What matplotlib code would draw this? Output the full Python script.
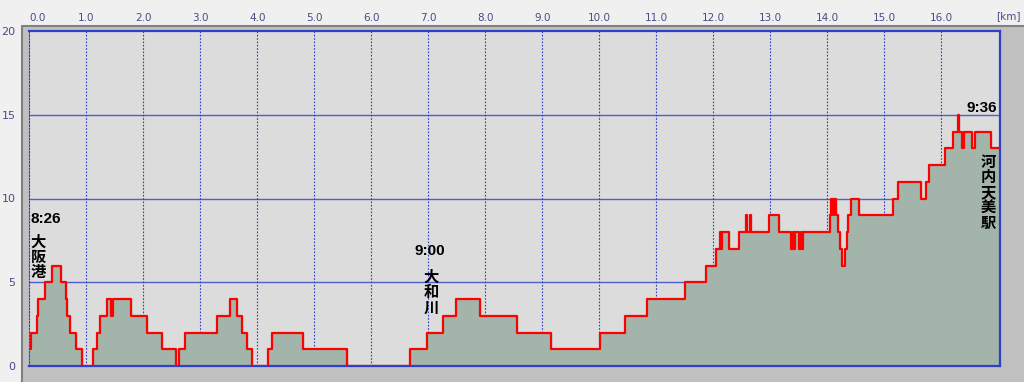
import matplotlib
matplotlib.use("Agg")
import matplotlib.pyplot as plt
from matplotlib.patches import Rectangle
import numpy as np

# elevation profile: distance [km] where each step starts, elevation [m] of that step
dist_km = [0.00, 0.03, 0.13, 0.16, 0.28, 0.39, 0.56, 0.64, 0.66, 0.72, 0.82, 0.93,
           1.11, 1.18, 1.24, 1.37, 1.44, 1.46, 1.79, 2.06, 2.32, 2.57, 2.63, 2.73,
           3.30, 3.52, 3.65, 3.73, 3.82, 3.90, 4.19, 4.26, 4.80, 5.58, 6.68, 6.98,
           7.25, 7.49, 7.90, 8.55, 9.15, 10.01, 10.45, 10.83, 11.50, 11.88, 12.04,
           12.12, 12.14, 12.15, 12.17, 12.28, 12.45, 12.58, 12.60, 12.65, 12.67,
           12.98, 13.15, 13.36, 13.39, 13.41, 13.43, 13.46, 13.51, 13.53, 13.55,
           13.58, 13.61, 14.04, 14.07, 14.10, 14.12, 14.15, 14.19, 14.22, 14.25,
           14.28, 14.31, 14.34, 14.37, 14.41, 14.56, 15.15, 15.24, 15.64, 15.74,
           15.78, 16.06, 16.21, 16.29, 16.31, 16.36, 16.39, 16.53, 16.60, 16.87, 17.03]
elev_m = [1, 2, 3, 4, 5, 6, 5, 4, 3, 2, 1, 0,
          1, 2, 3, 4, 3, 4, 3, 2, 1, 0, 1, 2,
          3, 4, 3, 2, 1, 0, 1, 2, 1, 0, 1, 2,
          3, 4, 3, 2, 1, 2, 3, 4, 5, 6, 7,
          8, 7, 8, 8, 7, 8, 9, 8, 9, 8,
          9, 8, 7, 8, 7, 8, 8, 7, 8, 7,
          8, 8, 9, 10, 9, 10, 9, 8, 7, 6,
          6, 7, 8, 9, 10, 9, 10, 11, 10, 11,
          12, 13, 14, 15, 14, 13, 14, 13, 14, 13, 13]

x_ticks = np.arange(0, 17, 1)
y_ticks = [0, 5, 10, 15, 20]

# (distance km, time, station)
stations = [(0.02, "8:26", "大阪港"), (7.03, "9:00", "大和川"), (16.98, "9:36", "河内天美駅")]

BLUE = "#2f3fc8"
TICK_COL = "#4a4a88"
CJK = ["Noto Sans CJK JP", "DejaVu Sans"]

fig = plt.figure(figsize=(10.24, 3.82), dpi=100, facecolor="#f0f0f0")
# grey frame behind the plot area
fig.patches.append(Rectangle((21 / 1024, 0), 1 - 21 / 1024, (382 - 25) / 382,
                             transform=fig.transFigure, facecolor="#c0c0c0",
                             edgecolor="none", zorder=-10))
fig.lines.append(plt.Line2D([21.5 / 1024, 21.5 / 1024, 1], [0, (382 - 25.5) / 382, (382 - 25.5) / 382],
                            transform=fig.transFigure, color="#808080", lw=1.5, zorder=-9))

ax = fig.add_axes([29.3 / 1024, 16 / 382, (1000 - 29.3) / 1024, 335 / 382])
ax.set_facecolor("#dcdcdc")
ax.set_xlim(0, 17.03)
ax.set_ylim(0, 20)

for yv in [5, 10, 15]:
    ax.axhline(yv, color=BLUE, lw=1.0, alpha=0.8, zorder=1)
for xv in x_ticks[1:]:
    ax.axvline(xv, color=BLUE, lw=0.8, ls=(0, (1.5, 1.5)), zorder=1)

ax.fill_between(dist_km, elev_m, 0, step="post", color="#a3b5aa", zorder=2)
ax.step(dist_km, elev_m, where="post", color="#ff0000", lw=1.6, zorder=3)

for s in ["top", "right", "bottom"]:
    ax.spines[s].set_color(BLUE)
    ax.spines[s].set_linewidth(1.6)
ax.spines["left"].set_color(BLUE)
ax.spines["left"].set_linewidth(0.8)
ax.spines["left"].set_linestyle((0, (1.5, 1.5)))

ax.xaxis.tick_top()
ax.set_xticks(x_ticks)
ax.set_xticklabels([f"{v:.1f}" for v in x_ticks], fontsize=7.5, color=TICK_COL)
ax.get_xticklabels()[0].set_horizontalalignment("left")
ax.set_yticks(y_ticks)
ax.set_yticklabels([str(v) for v in y_ticks], fontsize=8, color=TICK_COL)
ax.tick_params(axis="x", length=0, pad=6)
ax.tick_params(axis="y", length=0, pad=10)
fig.text(1021 / 1024, 1 - 16 / 382, "[km]", fontsize=7.5, color=TICK_COL,
         ha="right", va="center")

# station annotations
t0, n0 = stations[0][1], stations[0][2]
ax.text(stations[0][0], 8.78, t0, ha="left", va="center", fontsize=11,
        fontweight="bold", family="Liberation Sans")
ax.text(0.16, 6.51, "\n".join(n0), ha="center", va="center", fontsize=11,
        fontweight="bold", family=CJK, linespacing=0.95)

t1, n1 = stations[1][1], stations[1][2]
ax.text(stations[1][0], 6.84, t1, ha="center", va="center", fontsize=11,
        fontweight="bold", family="Liberation Sans")
ax.text(7.05, 4.42, "\n".join(n1), ha="center", va="center", fontsize=11,
        fontweight="bold", family=CJK, linespacing=0.95)

t2, n2 = stations[2][1], stations[2][2]
ax.text(stations[2][0], 15.43, t2, ha="right", va="center", fontsize=11,
        fontweight="bold", family="Liberation Sans")
ax.text(16.83, 10.37, "\n".join(n2), ha="center", va="center", fontsize=11,
        fontweight="bold", family=CJK, linespacing=0.95)

fig.savefig("out.png", dpi=100, facecolor=fig.get_facecolor())
